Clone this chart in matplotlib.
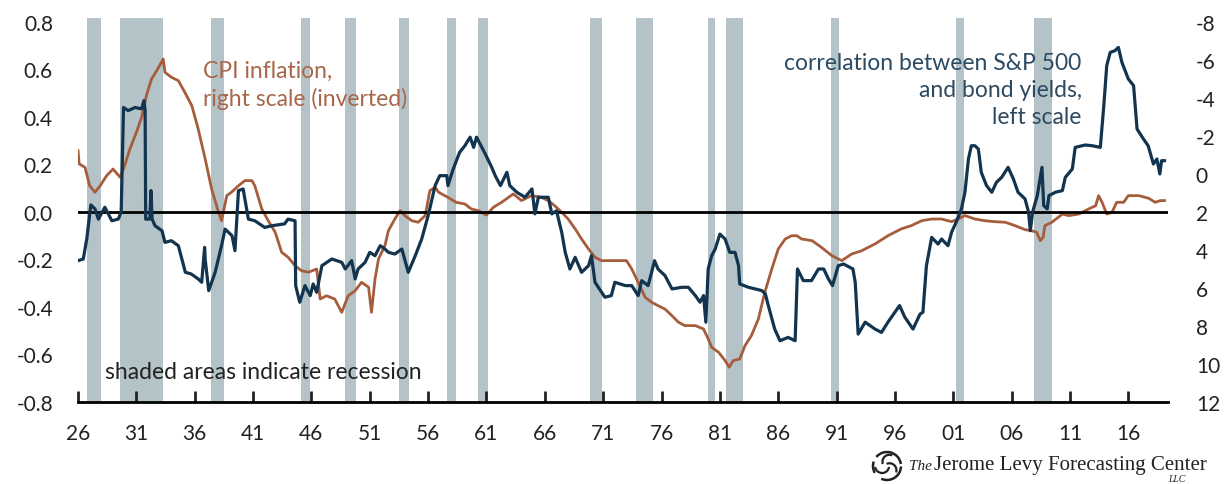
import matplotlib
matplotlib.use('Agg')
import matplotlib.pyplot as plt
from matplotlib.patches import Arc
import numpy as np

plt.rcParams['font.family'] = ['Lato', 'DejaVu Sans']

# correlation between S&P 500 and bond yields (left scale)
corr_year = [1926.0, 1926.45, 1926.75, 1927.1, 1927.45, 1927.75, 1928.3, 1928.9, 1929.45, 1929.7,
             1929.9, 1930.3, 1930.9, 1931.45, 1931.65, 1931.75, 1931.8, 1932.15, 1932.25, 1932.35,
             1932.6, 1933.2, 1933.45, 1934.0, 1934.6, 1934.9, 1935.2, 1935.7, 1936.3, 1936.6,
             1936.85, 1936.9, 1937.2, 1937.75, 1938.3, 1938.6, 1939.2, 1939.45, 1939.75, 1940.15,
             1940.6, 1941.15, 1942.0, 1942.6, 1943.7, 1944.0, 1944.6, 1944.65, 1945.0, 1945.45,
             1945.9, 1946.15, 1946.45, 1946.9, 1947.75, 1948.6, 1948.9, 1949.45, 1949.75, 1950.0,
             1950.6, 1951.0, 1951.45, 1951.9, 1952.3, 1952.6, 1953.15, 1953.75, 1954.3, 1954.9,
             1955.45, 1956.0, 1956.6, 1957.0, 1957.6, 1957.7, 1958.15, 1958.7, 1959.15, 1959.6,
             1959.9, 1960.15, 1960.9, 1961.45, 1961.75, 1962.2, 1962.75, 1963.0, 1963.6, 1964.3,
             1964.9, 1965.15, 1965.45, 1966.3, 1966.6, 1967.0, 1967.45, 1967.75, 1968.15, 1968.6,
             1969.15, 1969.75, 1970.0, 1970.3, 1971.15, 1971.7, 1972.0, 1972.9, 1973.45, 1974.0,
             1974.3, 1974.85, 1975.15, 1975.4, 1975.7, 1976.3, 1976.9, 1977.75, 1978.3, 1978.9,
             1979.3, 1979.6, 1979.8, 1980.0, 1980.3, 1980.6, 1981.0, 1981.45, 1981.85, 1982.3,
             1982.6, 1982.7, 1983.45, 1984.6, 1984.9, 1985.15, 1985.7, 1986.15, 1986.85, 1987.45,
             1987.65, 1988.15, 1988.85, 1989.45, 1989.9, 1990.3, 1990.65, 1991.15, 1991.6, 1992.4,
             1992.6, 1992.85, 1993.45, 1994.3, 1994.85, 1995.4, 1996.0, 1996.4, 1996.85, 1997.55,
             1998.15, 1998.4, 1998.7, 1999.15, 1999.7, 2000.0, 2000.55, 2000.85, 2001.3, 2001.7,
             2002.0, 2002.3, 2002.55, 2002.85, 2003.15, 2003.4, 2003.85, 2004.3, 2004.7, 2005.15,
             2005.7, 2006.15, 2006.55, 2007.15, 2007.45, 2007.6, 2007.8, 2008.2, 2008.6, 2008.75,
             2009.05, 2009.2, 2009.75, 2010.35, 2010.6, 2011.2, 2011.45, 2012.3, 2012.9, 2013.6,
             2013.9, 2014.15, 2014.45, 2014.85, 2015.15, 2015.45, 2016.0, 2016.45, 2016.75, 2017.3,
             2017.7, 2018.15, 2018.45, 2018.7, 2018.85, 2019.1]
corr_val = [-0.205, -0.198, -0.114, 0.03, 0.013, -0.03, 0.02, -0.037, -0.03, 0.0,
            0.44, 0.427, 0.44, 0.434, 0.469, 0.43, -0.03, -0.03, 0.09, -0.03,
            -0.058, -0.079, -0.128, -0.121, -0.142, -0.198, -0.254, -0.261, -0.282, -0.296,
            -0.149, -0.2, -0.331, -0.254, -0.142, -0.072, -0.1, -0.163, 0.09, 0.097,
            -0.03, -0.037, -0.065, -0.058, -0.05, -0.03, -0.037, -0.31, -0.38, -0.31,
            -0.352, -0.303, -0.338, -0.226, -0.198, -0.212, -0.24, -0.205, -0.282, -0.24,
            -0.212, -0.17, -0.184, -0.142, -0.156, -0.17, -0.177, -0.156, -0.254, -0.184,
            -0.114, -0.016, 0.111, 0.153, 0.153, 0.111, 0.181, 0.251, 0.279, 0.315,
            0.272, 0.315, 0.244, 0.188, 0.153, 0.111, 0.167, 0.111, 0.083, 0.062,
            0.097, -0.008, 0.062, 0.062, -0.008, 0.005, -0.086, -0.17, -0.24, -0.191,
            -0.254, -0.226, -0.184, -0.296, -0.359, -0.352, -0.296, -0.31, -0.31, -0.352,
            -0.289, -0.31, -0.254, -0.205, -0.24, -0.268, -0.324, -0.317, -0.317, -0.352,
            -0.38, -0.352, -0.464, -0.24, -0.184, -0.156, -0.093, -0.114, -0.17, -0.17,
            -0.226, -0.303, -0.317, -0.331, -0.345, -0.394, -0.493, -0.542, -0.528, -0.542,
            -0.24, -0.289, -0.289, -0.24, -0.24, -0.282, -0.31, -0.226, -0.219, -0.24,
            -0.296, -0.514, -0.464, -0.493, -0.507, -0.464, -0.422, -0.394, -0.443, -0.493,
            -0.43, -0.422, -0.226, -0.107, -0.135, -0.114, -0.142, -0.086, -0.037, 0.013,
            0.083, 0.223, 0.279, 0.279, 0.265, 0.167, 0.111, 0.083, 0.125, 0.146,
            0.188, 0.139, 0.083, 0.055, 0.0, -0.079, 0.0, 0.069, 0.188, 0.027,
            0.013, 0.069, 0.083, 0.09, 0.146, 0.181, 0.272, 0.282, 0.279, 0.272,
            0.448, 0.616, 0.672, 0.679, 0.693, 0.63, 0.56, 0.532, 0.349, 0.307,
            0.279, 0.202, 0.223, 0.16, 0.216, 0.216]

# CPI inflation, % (right scale, inverted)
cpi_year = [1926.0, 1926.1, 1926.6, 1927.0, 1927.45, 1927.9, 1928.45, 1929.0, 1929.6, 1930.0,
            1930.45, 1931.0, 1931.45, 1931.9, 1932.3, 1932.75, 1933.3, 1933.45, 1934.0, 1934.6,
            1935.15, 1935.75, 1936.3, 1936.9, 1937.45, 1938.0, 1938.3, 1938.75, 1939.15, 1939.75,
            1940.3, 1940.9, 1941.15, 1941.75, 1942.3, 1942.9, 1943.45, 1944.0, 1944.6, 1945.15,
            1945.75, 1946.45, 1946.75, 1947.3, 1948.0, 1948.6, 1949.15, 1949.75, 1950.3, 1950.9,
            1951.15, 1951.45, 1951.75, 1952.3, 1952.6, 1953.15, 1953.6, 1954.0, 1954.6, 1955.15,
            1955.75, 1956.15, 1956.6, 1956.9, 1957.7, 1958.4, 1959.15, 1959.7, 1960.3, 1961.0,
            1961.6, 1962.3, 1963.3, 1964.0, 1964.85, 1965.7, 1966.3, 1966.85, 1967.45, 1968.0,
            1968.6, 1969.15, 1969.75, 1970.3, 1970.85, 1971.7, 1973.0, 1973.45, 1974.0, 1974.6,
            1975.15, 1975.7, 1976.3, 1976.9, 1977.45, 1978.0, 1978.9, 1979.6, 1980.0, 1980.3,
            1980.9, 1981.45, 1981.8, 1982.15, 1982.7, 1983.15, 1983.7, 1984.3, 1984.85, 1985.45,
            1986.0, 1986.6, 1987.15, 1987.6, 1988.0, 1988.9, 1989.7, 1990.6, 1991.45, 1992.3,
            1993.15, 1994.3, 1995.4, 1996.55, 1997.4, 1998.3, 1999.15, 2000.0, 2000.85, 2001.4,
            2002.0, 2002.85, 2003.7, 2004.55, 2005.45, 2006.3, 2007.15, 2007.7, 2008.15, 2008.45,
            2008.7, 2008.85, 2009.45, 2010.35, 2010.9, 2011.75, 2012.6, 2013.2, 2013.45, 2013.75,
            2014.15, 2014.6, 2015.0, 2015.6, 2016.0, 2016.9, 2017.75, 2018.3, 2018.75, 2019.1]
cpi_val = [-1.23, -0.53, -0.35, 0.62, 0.96, 0.62, 0.09, -0.26, 0.17, -0.44,
           -1.32, -2.19, -2.98, -4.21, -5.0, -5.44, -6.05, -5.35, -5.09, -4.91,
           -4.3, -3.6, -2.37, -0.79, 0.79, 1.93, 2.46, 1.14, 0.96, 0.62,
           0.35, 0.35, 0.62, 1.84, 2.46, 3.07, 4.12, 4.38, 4.83, 5.09,
           5.17, 5.0, 6.58, 6.41, 6.58, 7.28, 6.41, 6.14, 5.7, 5.96,
           7.28, 5.53, 4.47, 3.77, 2.98, 2.37, 1.93, 2.19, 2.46, 2.54,
           2.19, 0.88, 0.7, 0.96, 1.23, 1.49, 1.58, 1.84, 1.93, 2.16,
           1.75, 1.49, 1.05, 1.4, 1.14, 1.23, 1.4, 1.67, 2.02, 2.37,
           2.89, 3.42, 3.95, 4.38, 4.56, 4.56, 4.56, 5.0, 5.7, 6.49,
           6.75, 6.93, 7.11, 7.46, 7.8, 7.98, 7.98, 8.16, 8.68, 9.12,
           9.39, 9.82, 10.17, 9.82, 9.74, 9.04, 8.51, 7.63, 6.23, 5.0,
           3.95, 3.42, 3.25, 3.25, 3.42, 3.51, 3.86, 4.3, 4.56, 4.21,
           4.04, 3.68, 3.25, 2.89, 2.72, 2.46, 2.37, 2.37, 2.51, 2.37,
           2.19, 2.37, 2.46, 2.51, 2.54, 2.72, 2.93, 2.98, 3.07, 3.51,
           3.33, 2.72, 2.54, 2.11, 2.19, 2.11, 1.84, 1.67, 1.14, 1.49,
           2.11, 2.02, 1.49, 1.49, 1.14, 1.14, 1.28, 1.49, 1.4, 1.4]

# NBER recessions (start, end)
rec_start = [1926.8, 1929.6, 1937.4, 1945.1, 1948.85, 1953.5, 1957.6, 1960.3, 1969.9, 1973.85,
             1980.0, 1981.5, 1990.5, 2001.2, 2007.9]
rec_end = [1927.95, 1933.3, 1938.5, 1945.85, 1949.8, 1954.4, 1958.35, 1961.15, 1970.9, 1975.25,
           1980.55, 1982.95, 1991.2, 2001.9, 2009.5]

xtick_years = list(range(1926, 2017, 5))
left_ticks = [0.8, 0.6, 0.4, 0.2, 0.0, -0.2, -0.4, -0.6, -0.8]
right_ticks = [-8, -6, -4, -2, 0, 2, 4, 6, 8, 10, 12]

NAVY = '#12344f'
BROWN = '#a65d3b'
BAND = '#b4c3c7'

fig = plt.figure(figsize=(12.3, 4.85), dpi=100)
ax = fig.add_axes([78 / 1230, 82 / 485, 1090 / 1230, (403 - 19.4) / 485])
ax2 = ax.twinx()

ylo, yhi = -0.8, 0.815
ax.set_xlim(1926.0, 2019.4)
ax.set_ylim(ylo, yhi)
# right scale: 0 (left) <-> 2 (right), 0.8 <-> -8
ax2.set_ylim(2 - 12.5 * ylo, 2 - 12.5 * yhi)

# ax2 sits underneath: bands + CPI, then ax on top with zero line + correlation
for s, e in zip(rec_start, rec_end):
    ax2.axvspan(s, e, color=BAND, lw=0, zorder=0)
ax2.plot(cpi_year, cpi_val, color=BROWN, lw=2, zorder=3)

ax.axhline(0, color='black', lw=2, zorder=2)
ax.plot(corr_year, corr_val, color=NAVY, lw=2.3, zorder=4)
ax.set_zorder(ax2.get_zorder() + 1)
ax.patch.set_visible(False)

for a in (ax, ax2):
    for side in ('top', 'left', 'right'):
        a.spines[side].set_visible(False)
ax2.spines['bottom'].set_visible(False)
ax.spines['bottom'].set_linewidth(2)

ax.set_xticks(xtick_years)
ax.set_xticklabels([f'{y % 100:02d}' for y in xtick_years])
ax.tick_params(axis='x', direction='in', length=8, width=2, pad=15, labelsize=15, colors='#222222')
ax.set_yticks(left_ticks)
ax.set_yticklabels([f'{v:.1f}' for v in left_ticks])
ax.tick_params(axis='y', length=0, pad=18, labelsize=15, colors='#222222')
ax2.set_yticks(right_ticks)
ax2.set_yticklabels([str(v) for v in right_ticks])
ax2.tick_params(axis='y', length=0, pad=20, labelsize=15, colors='#222222')

ax.text(1936.7, 0.64, 'CPI inflation,\nright scale (inverted)', color='#a8674a', fontsize=16.5,
        ha='left', va='top', linespacing=1.35)
ax.text(2012.0, 0.675, 'correlation between S&P 500\nand bond yields,\nleft scale', color='#2c4a62',
        fontsize=16.5, ha='right', va='top', linespacing=1.35)
ax.text(1928.3, -0.672, 'shaded areas indicate recession', color='#222222', fontsize=16.5,
        ha='left', va='center')

# logo
cx, cy, r = 887, 18, 14
for t1, t2 in [(20, 140), (140, 260), (260, 380)]:
    fig.add_artist(Arc((cx / 1230, cy / 485), 2 * r / 1230, 2 * r / 485, theta1=t1, theta2=t2 - 25,
                       color='#222222', lw=1.8, transform=fig.transFigure))
    fig.add_artist(Arc((cx / 1230 + 0.35 * r / 1230 * np.cos(np.radians(t1 + 40)),
                        cy / 485 + 0.35 * r / 485 * np.sin(np.radians(t1 + 40))),
                       r / 1230, r / 485, theta1=t1 + 60, theta2=t1 + 200,
                       color='#222222', lw=1.6, transform=fig.transFigure))
fig.text(909 / 1230, 15 / 485, 'The', fontsize=11, family='Liberation Serif', style='italic',
         color='#222222', ha='left', va='baseline')
fig.text(934 / 1230, 15 / 485, 'Jerome Levy Forecasting Center', fontsize=15,
         family='Liberation Serif', color='#222222', ha='left', va='baseline')
fig.text(1168 / 1230, 10 / 485, 'LLC', fontsize=7, family='Liberation Serif', style='italic',
         color='#222222', ha='left', va='top')

fig.savefig('out.png', dpi=100)
